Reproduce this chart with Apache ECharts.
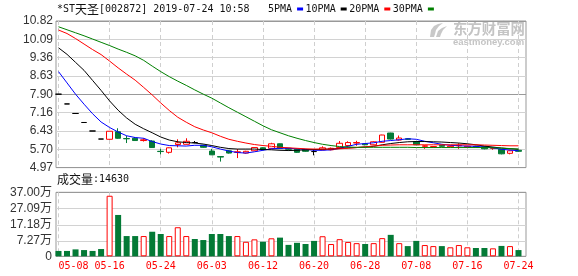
<!DOCTYPE html>
<html><head><meta charset="utf-8">
<script src="https://cdn.jsdelivr.net/npm/echarts@6/dist/echarts.min.js"></script>
<style>html,body{margin:0;padding:0;background:#fff}#c{width:578px;height:276px}</style>
</head><body><div id="c"></div>
<script>
// ---- data ----
const dates = ['05-08','05-09','05-10','05-13','05-14','05-15','05-16','05-17','05-20','05-21','05-22','05-23','05-24','05-27','05-28','05-29','05-30','05-31','06-03','06-04','06-05','06-06','06-10','06-11','06-12','06-13','06-14','06-17','06-18','06-19','06-20','06-21','06-24','06-25','06-26','06-27','06-28','07-01','07-02','07-03','07-04','07-05','07-08','07-09','07-10','07-11','07-12','07-15','07-16','07-17','07-18','07-19','07-22','07-23','07-24'];
const opens  = [7.90,7.51,7.13,6.77,6.43,6.11,6.10,6.40,6.13,6.14,6.05,6.03,5.62,5.58,5.89,5.90,5.97,5.86,5.63,5.41,5.64,5.58,5.55,5.64,5.76,5.74,5.92,5.74,5.70,5.69,5.61,5.68,5.68,5.77,5.85,5.95,5.92,5.88,5.98,6.35,6.07,6.12,6.01,5.82,5.78,5.86,5.80,5.84,5.78,5.82,5.80,5.74,5.70,5.54,5.66];
const closes = [7.90,7.51,7.13,6.77,6.43,6.11,6.42,6.14,6.12,6.05,6.08,5.77,5.61,5.76,5.96,6.02,5.97,5.78,5.48,5.39,5.55,5.60,5.62,5.77,5.69,5.92,5.74,5.70,5.58,5.62,5.61,5.76,5.74,5.94,5.97,5.97,5.88,6.00,6.27,6.11,6.15,6.10,5.88,5.84,5.81,5.82,5.83,5.86,5.82,5.79,5.72,5.76,5.52,5.64,5.62];
const lows   = [7.90,7.51,7.13,6.77,6.43,6.11,6.08,6.12,5.95,6.04,6.01,5.76,5.50,5.53,5.78,5.89,5.94,5.76,5.47,5.21,5.53,5.35,5.53,5.63,5.66,5.73,5.73,5.64,5.56,5.60,5.46,5.66,5.66,5.76,5.84,5.84,5.86,5.87,5.97,6.09,6.05,6.08,5.86,5.72,5.76,5.80,5.78,5.72,5.77,5.78,5.70,5.68,5.50,5.50,5.60];
const highs  = [7.90,7.51,7.13,6.77,6.43,6.11,6.42,6.54,6.24,6.19,6.14,6.06,5.72,5.77,6.10,6.14,6.03,5.88,5.72,5.43,5.67,5.71,5.64,5.78,5.78,5.96,5.93,5.76,5.72,5.72,5.68,5.82,5.77,6.03,6.02,6.04,5.95,6.02,6.28,6.36,6.25,6.14,6.02,5.86,5.83,5.87,5.85,5.94,5.84,5.84,5.82,5.78,5.71,5.65,5.67];
const volumes = [3.1,3.1,4.0,3.6,3.1,4.2,35.0,23.9,11.7,11.7,11.7,14.2,12.9,11.7,16.8,11.7,10.0,9.4,12.9,12.9,11.7,11.7,8.4,9.8,8.4,10.4,10.8,6.6,7.8,7.1,8.9,11.6,7.1,9.9,8.3,7.6,7.1,7.6,10.5,12.4,7.6,5.9,8.9,6.5,5.9,5.9,5.2,6.5,5.2,4.8,4.8,4.6,6.0,5.9,3.6];
const ma5  = [8.80,8.35,7.90,7.50,7.12,6.79,6.57,6.39,6.24,6.17,6.14,6.01,5.91,5.85,5.84,5.83,5.86,5.86,5.80,5.71,5.63,5.57,5.55,5.60,5.66,5.72,5.74,5.74,5.72,5.70,5.66,5.66,5.68,5.74,5.82,5.90,5.93,5.96,6.02,6.05,6.08,6.12,6.10,6.02,5.96,5.90,5.86,5.84,5.83,5.82,5.79,5.76,5.70,5.67,5.64];
const ma10 = [9.75,9.49,9.17,8.85,8.45,8.05,7.63,7.26,6.95,6.70,6.52,6.36,6.19,6.07,6.00,5.97,5.95,5.91,5.85,5.78,5.73,5.71,5.71,5.71,5.69,5.68,5.66,5.65,5.66,5.68,5.69,5.70,5.71,5.73,5.76,5.77,5.79,5.82,5.88,5.93,5.97,6.00,6.01,6.01,6.00,5.99,5.97,5.95,5.92,5.88,5.83,5.79,5.75,5.72,5.70];
const ma20 = [10.46,10.32,10.12,9.90,9.68,9.48,9.22,8.95,8.70,8.46,8.17,7.87,7.55,7.25,6.98,6.78,6.60,6.47,6.36,6.22,6.10,6.02,5.95,5.89,5.85,5.82,5.78,5.76,5.74,5.72,5.71,5.71,5.71,5.72,5.74,5.77,5.80,5.83,5.86,5.87,5.88,5.88,5.88,5.88,5.88,5.88,5.88,5.88,5.88,5.88,5.87,5.86,5.85,5.84,5.84];
const ma30 = [10.59,10.47,10.35,10.23,10.10,9.97,9.84,9.70,9.57,9.43,9.25,9.02,8.80,8.60,8.42,8.25,8.07,7.90,7.74,7.55,7.36,7.18,7.00,6.82,6.64,6.48,6.36,6.24,6.14,6.05,5.97,5.90,5.85,5.81,5.79,5.78,5.78,5.78,5.78,5.78,5.78,5.78,5.77,5.77,5.77,5.77,5.77,5.77,5.77,5.77,5.77,5.76,5.75,5.73,5.71];
const maNames = ['5PMA','10PMA','20PMA','30PMA'];
const priceTicks = ['4.97','5.70','6.43','7.16','7.90','8.63','9.36','10.09','10.82'];
const volTicks = ['37.00万','27.09万','17.18万','7.27万','0'];
const priceMin = 4.97, priceMax = 10.82, volMax = 37;
const titleText = '*ST{c|天圣}[002872] 2019-07-24 10:58';
const volLabel = '{c|成交量}:14630';

// ---- styling ----
const RED = '#ff0000', GREEN = '#037a36';
const MONO = '"DejaVu Sans Mono", monospace';
const CJK = '"Noto Sans CJK SC"';
const SANS = '"Liberation Sans", "Noto Sans CJK SC", sans-serif';
const maColors = ['#0000ff','#000000','#ff0000','#008000'];

const candleData = opens.map((o, i) => [o, closes[i], lows[i], highs[i]]);
const upFlags = opens.map((o, i) => {
  const c = closes[i];
  if (c > o) return true;
  if (c < o) return false;
  return i > 0 ? c >= closes[i - 1] : false;
});
const volData = volumes.map((v, i) => ({
  value: v,
  itemStyle: upFlags[i] ? {color: '#fff', borderColor: RED, borderWidth: 1} : {color: GREEN, borderWidth: 0}
}));

const volTickCount = 4;
const volFrameMax = 64 / 16.23;

const chart = echarts.init(document.getElementById('c'), null, {renderer: 'canvas'});
chart.setOption({
  animation: false,
  backgroundColor: '#fff',
  title: [
    {left: 57, top: 3, padding: 0, text: titleText,
     textStyle: {fontFamily: MONO, fontSize: 10, fontWeight: 'normal', color: '#111', lineHeight: 12,
       rich: {c: {fontFamily: CJK, fontSize: 12, color: '#111', lineHeight: 12}}}},
    {left: 57, top: 173, padding: 0, text: volLabel,
     textStyle: {fontFamily: MONO, fontSize: 10, fontWeight: 'normal', color: '#111', lineHeight: 12,
       rich: {c: {fontFamily: CJK, fontSize: 12, color: '#111', lineHeight: 12}}}}
  ],
  legend: {
    left: 268, top: 4, padding: 0, itemWidth: 6, itemHeight: 3, itemGap: 2.5,
    align: 'right', icon: 'rect', selectedMode: false, data: maNames,
    textStyle: {fontFamily: MONO, fontSize: 10, color: '#111'}
  },
  graphic: [
    {type: 'polygon', z: -1, silent: true,
     shape: {points: [[430,37],[431,30],[434,26],[438,24],[443,23],[439,26],[436,30],[435,34],[434,37]]},
     style: {fill: '#c8c8c8'}},
    {type: 'polygon', z: -1, silent: true,
     shape: {points: [[436,37],[438,31],[442,28],[447,26],[443,30],[441,34],[440,37]]},
     style: {fill: '#c8c8c8'}},
    {type: 'text', left: 453, top: 21, z: -1, silent: true,
     style: {text: '东方财富网', font: 'bold 14.4px "Noto Sans CJK SC"', fill: '#c4c4c4'}},
    {type: 'text', left: 453, top: 37, z: -1, silent: true,
     style: {text: 'eastmoney.com', font: 'bold 9.5px "Liberation Sans"', fill: '#c4c4c4'}}
  ],
  grid: [
    {left: 58.5, width: 460, top: 21, height: 146.6},
    {left: 58.5, width: 460, top: 192.3, height: 64},
    {left: 56, width: 470, top: 21, height: 146.6, show: true, borderColor: '#999', borderWidth: 1, backgroundColor: 'transparent'},
    {left: 56, width: 470, top: 192.3, height: 64, show: true, borderColor: '#999', borderWidth: 1, backgroundColor: 'transparent'}
  ],
  xAxis: [
    {type: 'category', gridIndex: 0, data: dates, boundaryGap: false,
     axisLine: {show: false}, axisTick: {show: false}, axisLabel: {show: false},
     splitLine: {show: true, interval: 5, lineStyle: {color: '#cfcfcf', width: 1, type: [4, 3]}}},
    {type: 'category', gridIndex: 1, data: dates, boundaryGap: false,
     axisLine: {show: false}, axisTick: {show: false},
     axisLabel: {show: true, interval: 5, color: RED, fontFamily: MONO, fontSize: 10, margin: 5, alignMinLabel: 'left'},
     splitLine: {show: true, interval: 5, lineStyle: {color: '#cfcfcf', width: 1, type: [4, 3]}}},
    {type: 'value', gridIndex: 2, min: 0, max: 1, show: false},
    {type: 'value', gridIndex: 3, min: 0, max: 1, show: false}
  ],
  yAxis: [
    {type: 'value', gridIndex: 0, min: priceMin, max: priceMax, show: false, splitLine: {show: false}},
    {type: 'value', gridIndex: 1, min: 0, max: volMax, show: false, splitLine: {show: false}},
    {type: 'value', gridIndex: 2, min: 0, max: priceTicks.length - 1, interval: 1,
     axisLine: {show: false}, axisTick: {show: false},
     axisLabel: {show: true, margin: 3, color: '#333', fontFamily: SANS, fontSize: 12, showMinLabel: true, showMaxLabel: true,
       formatter: (v) => priceTicks[Math.round(v)]},
     splitLine: {show: true, lineStyle: {width: 1, color: ['#999','#d2d2d2','#d2d2d2','#d2d2d2','#999','#d2d2d2','#d2d2d2','#d2d2d2','#999']}}},
    {type: 'value', gridIndex: 3, min: 0, max: volFrameMax, interval: 1, inverse: true,
     axisLine: {show: false}, axisTick: {show: false},
     axisLabel: {show: true, margin: 4, color: '#333', fontFamily: SANS, fontSize: 12, showMinLabel: true, showMaxLabel: true,
       formatter: (v) => {
         const k = Math.round(v);
         return Math.abs(v - k) < 1e-6 && k < volTickCount ? volTicks[k] : volTicks[volTicks.length - 1];
       }},
     splitLine: {show: true, lineStyle: {width: 1, color: ['#999','#d2d2d2','#d2d2d2','#d2d2d2','#999']}}}
  ],
  series: [
    {type: 'candlestick', name: 'K', xAxisIndex: 0, yAxisIndex: 0, data: candleData, barWidth: 6, clip: false,
     itemStyle: {color: '#fff', color0: GREEN, borderColor: RED, borderColor0: GREEN, borderColorDoji: '#000', borderWidth: 1},
     emphasis: {disabled: true}},
    {type: 'bar', name: 'VOL', xAxisIndex: 1, yAxisIndex: 1, data: volData, barWidth: 6, clip: false,
     emphasis: {disabled: true}},
    ...[ma5, ma10, ma20, ma30].map((d, k) => ({
      type: 'line', name: maNames[k], xAxisIndex: 0, yAxisIndex: 0, data: d,
      symbol: 'none', showSymbol: false, smooth: false, clip: false,
      lineStyle: {width: 1, color: maColors[k]}, itemStyle: {color: maColors[k]},
      emphasis: {disabled: true}, z: 3
    }))
  ]
});
</script>
</body></html>
